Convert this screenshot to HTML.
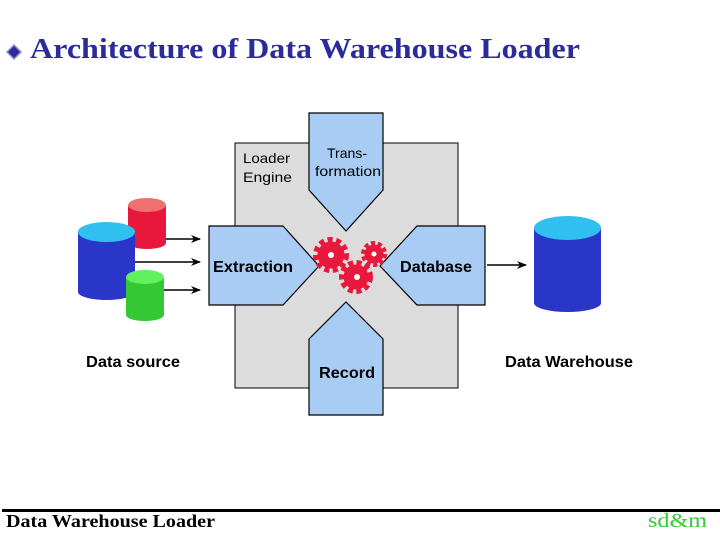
<!DOCTYPE html>
<html><head><style>
body{margin:0;background:#fff;width:720px;height:540px;overflow:hidden;position:relative}
</style></head><body>
<svg width="720" height="540" style="position:absolute;left:0;top:0" font-family="Liberation Sans, Arial, sans-serif">
<defs>
<marker id="ar" markerWidth="10" markerHeight="8" refX="9" refY="4" orient="auto" markerUnits="userSpaceOnUse"><path d="M0,0 L10,4 L0,8 L3,4z" fill="#000"/></marker>
</defs>
<polygon points="14,45 21,52 14,59 7,52" fill="#2b2b9a" stroke="#9090d0" stroke-width="1.5"/>
<text x="30" y="58" font-family="Liberation Serif, serif" font-size="28" font-weight="bold" fill="#2b2b9a" textLength="550" lengthAdjust="spacingAndGlyphs">Architecture of Data Warehouse Loader</text>
<rect x="235" y="143" width="223" height="245" fill="#dcdcdc" stroke="#000" stroke-width="1"/>
<text x="243" y="163" font-size="14" textLength="47" lengthAdjust="spacingAndGlyphs">Loader</text>
<text x="243" y="182" font-size="14" textLength="49" lengthAdjust="spacingAndGlyphs">Engine</text>
<g fill="#a8ccf4" stroke="#000" stroke-width="1.2">
<polygon points="309,113 383,113 383,190 346,231 309,190"/>
<polygon points="209,226 283,226 319,266 283,305 209,305"/>
<polygon points="485,226 417,226 380,266 417,305 485,305"/>
<polygon points="309,415 383,415 383,339 346,302 309,339"/>
</g>
<text x="327" y="158" font-size="14" textLength="40" lengthAdjust="spacingAndGlyphs">Trans-</text>
<text x="315" y="176" font-size="14" textLength="66" lengthAdjust="spacingAndGlyphs">formation</text>
<text x="213" y="272" font-size="16" font-weight="bold" textLength="80" lengthAdjust="spacingAndGlyphs">Extraction</text>
<text x="400" y="272" font-size="16" font-weight="bold" textLength="72" lengthAdjust="spacingAndGlyphs">Database</text>
<text x="319" y="378" font-size="16" font-weight="bold" textLength="56" lengthAdjust="spacingAndGlyphs">Record</text>
<g fill="#e8183c" stroke="#e8183c">
<circle cx="331" cy="255" r="13"/><circle cx="331" cy="255" r="15" fill="none" stroke-width="6" stroke-dasharray="5 3.4"/>
<circle cx="356" cy="277" r="12"/><circle cx="356" cy="277" r="14" fill="none" stroke-width="6" stroke-dasharray="5 3.3"/>
<circle cx="374" cy="254" r="9"/><circle cx="374" cy="254" r="10.5" fill="none" stroke-width="5" stroke-dasharray="4 2.6"/>
</g>
<circle cx="331" cy="255" r="3" fill="#fff"/><circle cx="357" cy="277" r="3" fill="#fff"/><circle cx="374" cy="254" r="2.5" fill="#fff"/>
<path d="M128,206 v37 a19,6 0 0 0 38,0 v-37z" fill="#e8183c"/><ellipse cx="147" cy="205" rx="19" ry="7" fill="#f07070"/>
<path d="M78,232 v60 a28.5,8 0 0 0 57,0 v-60z" fill="#2a36c8"/><ellipse cx="106.5" cy="232" rx="28.5" ry="10" fill="#30c0f0"/>
<path d="M126,278 v37 a19,6 0 0 0 38,0 v-37z" fill="#34c834"/><ellipse cx="145" cy="277" rx="19" ry="7" fill="#60f060"/>
<g stroke="#000" stroke-width="1.5">
<line x1="166" y1="239" x2="200" y2="239" marker-end="url(#ar)"/>
<line x1="135" y1="262" x2="200" y2="262" marker-end="url(#ar)"/>
<line x1="164" y1="290" x2="200" y2="290" marker-end="url(#ar)"/>
<line x1="487" y1="265" x2="526" y2="265" marker-end="url(#ar)"/>
</g>
<path d="M534,228 v75 a33.5,9 0 0 0 67,0 v-75z" fill="#2a36c8"/><ellipse cx="567.5" cy="228" rx="33.5" ry="12" fill="#30c0f0"/>
<text x="86" y="367" font-size="16" font-weight="bold" textLength="94" lengthAdjust="spacingAndGlyphs">Data source</text>
<text x="505" y="367" font-size="16" font-weight="bold" textLength="128" lengthAdjust="spacingAndGlyphs">Data Warehouse</text>
<rect x="2" y="509" width="718" height="3" fill="#000"/>
<text x="6" y="527" font-family="Liberation Serif, serif" font-size="18" font-weight="bold" textLength="209" lengthAdjust="spacingAndGlyphs">Data Warehouse Loader</text>
<text x="648" y="527" font-family="Liberation Serif, serif" font-size="20" fill="#33cc33" textLength="59" lengthAdjust="spacingAndGlyphs">sd&amp;m</text>
</svg>
</body></html>
